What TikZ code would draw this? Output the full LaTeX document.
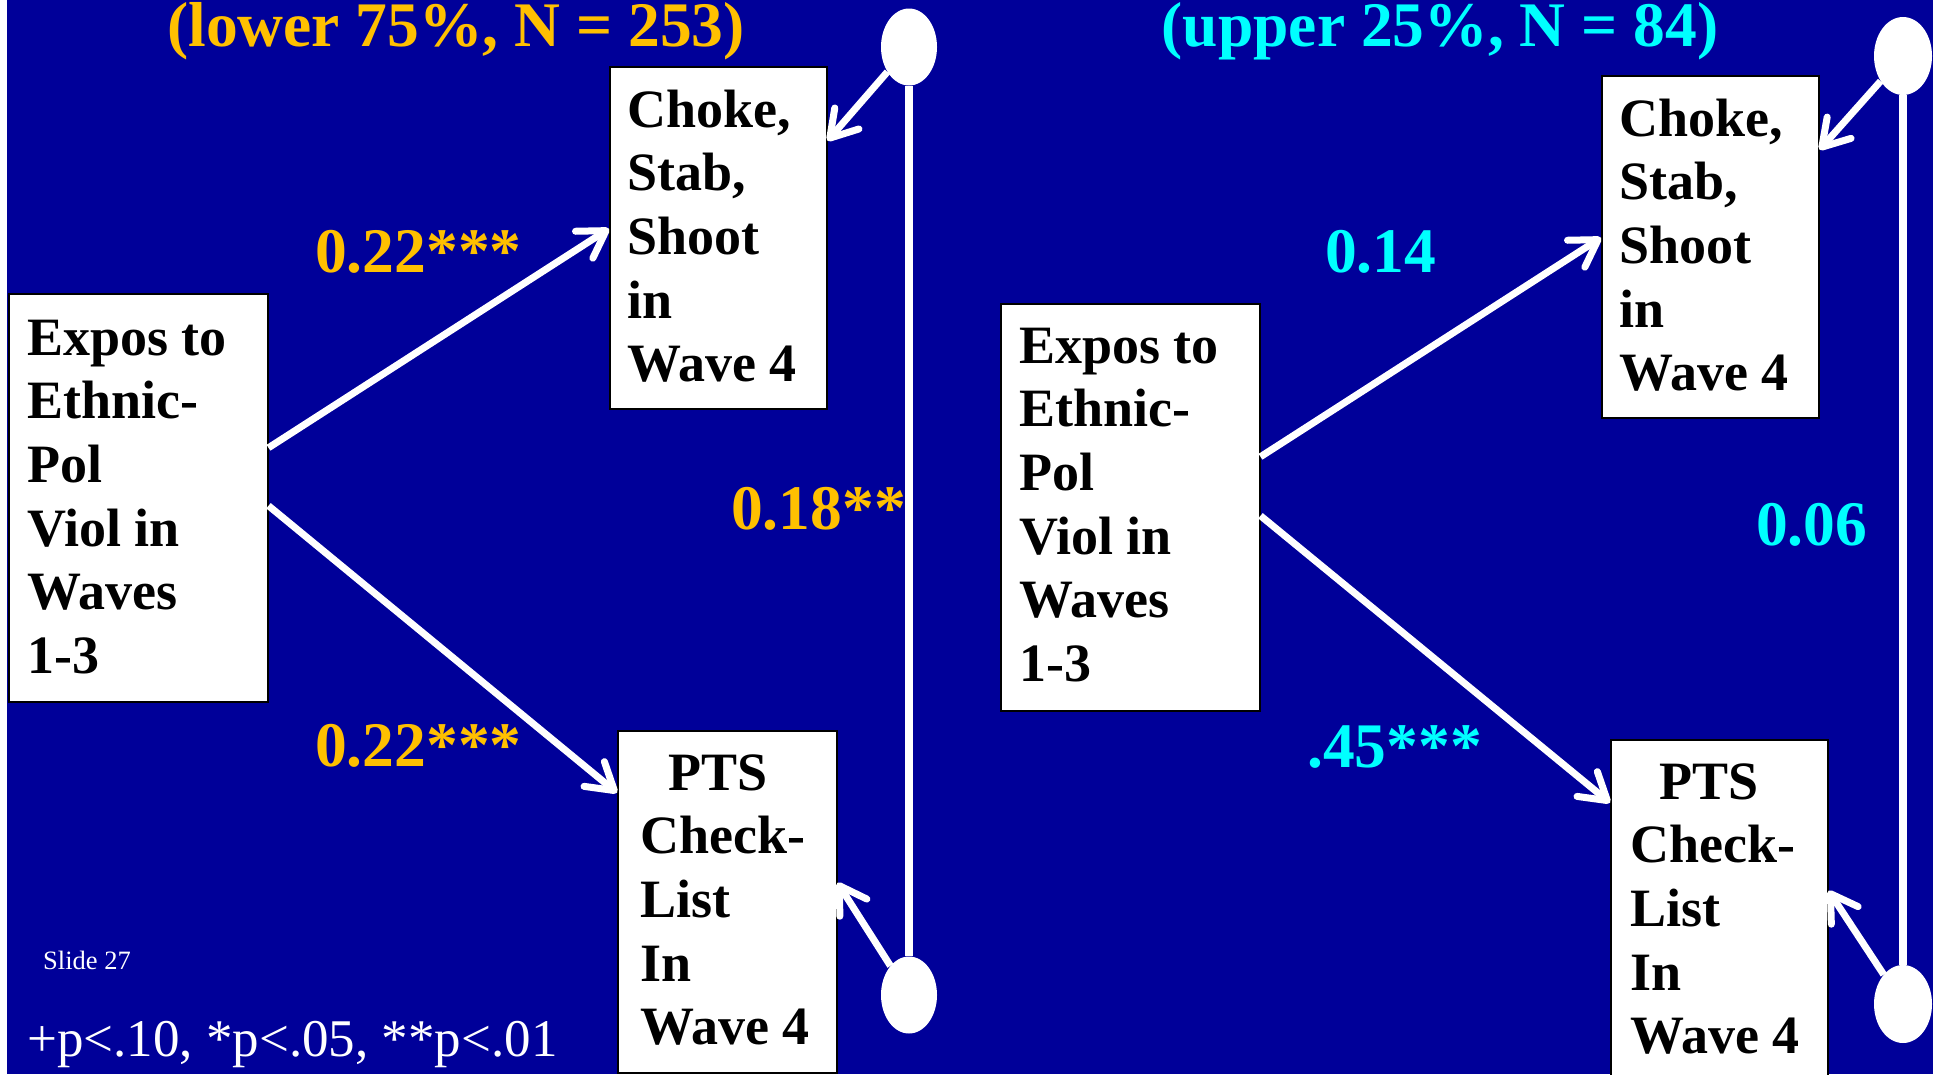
\documentclass[tikz,border=0pt]{standalone}
\usepackage{fontspec}
\setmainfont{Liberation Serif}
\usetikzlibrary{arrows.meta,shapes.geometric}
\definecolor{slideblue}{RGB}{0,0,153}
\definecolor{gold}{RGB}{255,192,0}
\definecolor{aqua}{RGB}{0,255,255}
\tikzset{
  box/.style={draw=black, line width=1.5pt, fill=white, rectangle, inner sep=0pt, anchor=north west},
  boxtext/.style={inner sep=0pt, anchor=base west, text=black,
    font=\bfseries\fontsize{54}{63.7}\selectfont},
  coef/.style={inner sep=0pt, anchor=base west, font=\bfseries\fontsize{63.5}{70}\selectfont},
  heading/.style={inner sep=0pt, anchor=base, font=\bfseries\fontsize{63.5}{70}\selectfont},
  note/.style={inner sep=0pt, anchor=base west, text=white},
  knob/.style={ellipse, fill=white, inner sep=0pt, minimum width=56pt, minimum height=77pt},
  link/.style={draw=white, line width=7pt, -{Straight Barb[length=26pt,width=32pt,round]}},
  rail/.style={draw=white, line width=7.5pt}
}
\begin{document}
\begin{tikzpicture}[x=1pt,y=-1pt]
\useasboundingbox (0,0) rectangle (1933,1074);
\clip (0,0) rectangle (1933,1074);
% slide background with the thin white margin on the left
\fill[white] (0,0) rectangle (1933,1074);
\fill[slideblue] (7,0) rectangle (1933,1074);

% ---------- left panel ----------
\node[heading, text=gold] (hdL) at (456,46) {(lower 75\%, N = 253)};

\node[box, minimum width=259pt, minimum height=408pt] (exL) at (8,293) {};
\node[box, minimum width=217pt, minimum height=342pt] (chL) at (609,66) {};
\node[box, minimum width=219pt, minimum height=342pt] (ptL) at (617,730) {};

\node[boxtext] (exLt) at (27,355) {\vtop{\hbox{Expos to}\hbox{Ethnic-}\hbox{Pol}\hbox{Viol in}\hbox{Waves}\hbox{1-3}}};
\node[boxtext] (chLt) at (627,127) {\vtop{\hbox{Choke,}\hbox{Stab,}\hbox{Shoot}\hbox{in}\hbox{Wave 4}}};
\node[boxtext] (ptLt) at (640,790) {\vtop{\hbox{\hspace*{28pt}PTS}\hbox{Check-}\hbox{List}\hbox{In}\hbox{Wave 4}}};

\node[knob] (kLt) at (909,47) {};
\node[knob] (kLb) at (909,995) {};
\draw[rail] (kLt.south) -- (kLb.north);

\draw[link] ([yshift=50pt]exL.east) -- ([yshift=9pt]chL.west);
\draw[link] ([yshift=-8pt]exL.east) -- ([yshift=109pt]ptL.west);
\draw[link] (kLt) -- ([yshift=97pt]chL.east);
\draw[link] (kLb) -- ([yshift=19pt]ptL.east);

\node[coef, text=gold] (cL1) at (315,272) {0.22***};
\node[coef, text=gold] (cL2) at (315,766) {0.22***};
\node[coef, text=gold] (cL3) at (731,529) {0.18**};

\node[note, font=\fontsize{26.5}{30}\selectfont] (slide) at (43,969) {Slide 27};
\node[note, font=\fontsize{53}{60}\selectfont] (sig) at (27,1056) {+p<.10, *p<.05, **p<.01};

% ---------- right panel ----------
\node[heading, text=aqua] (hdR) at (1440,46) {(upper 25\%, N = 84)};

\node[box, minimum width=259pt, minimum height=407pt] (exR) at (1000,303) {};
\node[box, minimum width=217pt, minimum height=342pt] (chR) at (1601,75) {};
\node[box, minimum width=217pt, minimum height=342pt] (ptR) at (1610,739) {};

\node[boxtext] (exRt) at (1019,363) {\vtop{\hbox{Expos to}\hbox{Ethnic-}\hbox{Pol}\hbox{Viol in}\hbox{Waves}\hbox{1-3}}};
\node[boxtext] (chRt) at (1619,136) {\vtop{\hbox{Choke,}\hbox{Stab,}\hbox{Shoot}\hbox{in}\hbox{Wave 4}}};
\node[boxtext] (ptRt) at (1630,799) {\vtop{\hbox{\hspace*{29pt}PTS}\hbox{Check-}\hbox{List}\hbox{In}\hbox{Wave 4}}};

\node[knob, minimum width=58pt, minimum height=78pt] (kRt) at (1903,56) {};
\node[knob, minimum width=58pt, minimum height=78pt] (kRb) at (1903,1004) {};
\draw[rail] (kRt.south) -- (kRb.north);

\draw[link] ([yshift=50.5pt]exR.east) -- ([yshift=9pt]chR.west);
\draw[link] ([yshift=-8.5pt]exR.east) -- ([yshift=108pt]ptR.west);
\draw[link] (kRt) -- ([yshift=97pt]chR.east);
\draw[link] (kRb) -- ([yshift=20pt]ptR.east);

\node[coef, text=aqua] (cR1) at (1325,272) {0.14};
\node[coef, text=aqua] (cR2) at (1307,767) {.45***};
\node[coef, text=aqua] (cR3) at (1756,545) {0.06};
\end{tikzpicture}
\end{document}
